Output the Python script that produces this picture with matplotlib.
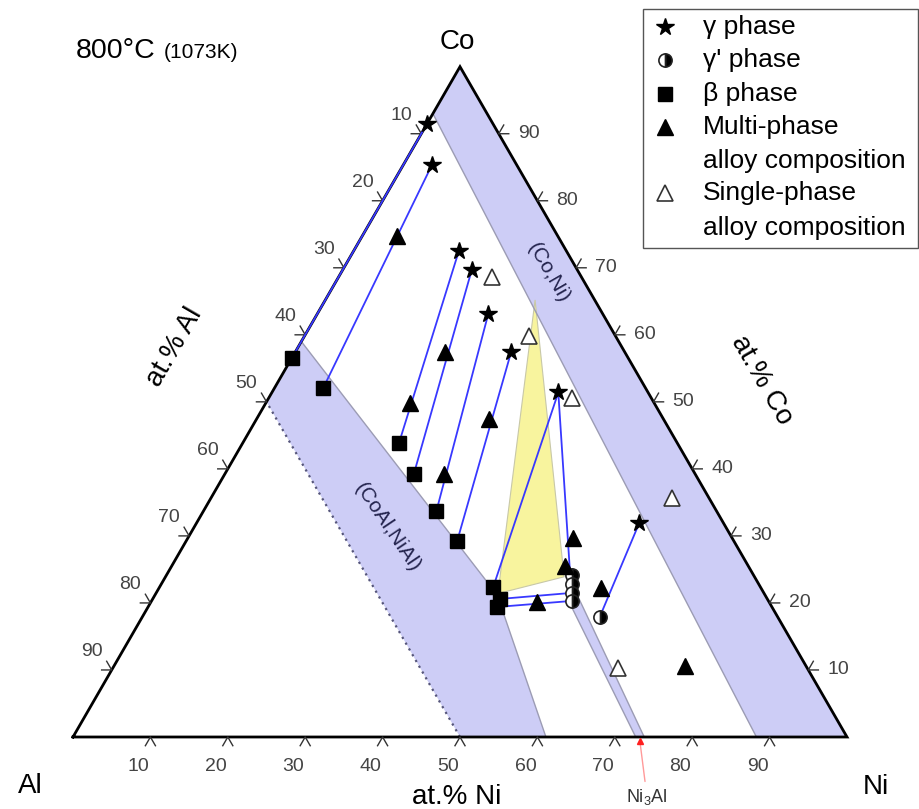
import numpy as np
import matplotlib.pyplot as plt
from matplotlib.patches import Polygon, Rectangle

plt.rcParams['font.family'] = ['Liberation Sans', 'DejaVu Sans']

S3 = np.sqrt(3) / 2
PX = 7.74  # pixels per at.% on the triangle


def tern(ni, co):
    # (Ni, Co) in at.% -> cartesian position inside the triangle
    ni = np.asarray(ni, float)
    co = np.asarray(co, float)
    return ni + co / 2, co * S3


def px(x, y):
    # figure pixel position -> data position
    return (x - 73) / PX, (737 - y) / PX


# phase compositions in at.% (Ni, Co); Al is the balance
gamma_ni = [0.0, 3.7, 13.6, 16.7, 22.1, 27.9, 37.0, 57.2]
gamma_co = [91.5, 85.4, 72.5, 69.6, 63.1, 57.4, 51.4, 31.9]
gprime_ni = [52.4, 53.0, 53.7, 54.3, 59.1]
gprime_co = [24.2, 22.9, 21.5, 20.3, 17.9]
beta_ni = [0.0, 6.3, 20.2, 24.4, 30.1, 35.0, 43.1, 44.9, 45.1]
beta_co = [56.6, 52.0, 43.8, 39.3, 33.7, 29.3, 22.4, 20.6, 19.4]
multi_ni = [4.4, 18.6, 19.3, 28.3, 30.0, 49.7, 50.8, 49.8, 57.1, 73.8]
multi_co = [74.8, 49.9, 57.4, 39.2, 47.4, 29.7, 25.5, 20.2, 22.2, 10.6]
single_ni = [19.8, 29.0, 39.2, 59.5, 65.2]
single_co = [68.6, 59.8, 50.5, 35.7, 10.3]

# tie lines as index pairs
ties_gamma_beta = [(0, 0), (1, 1), (2, 2), (3, 3), (4, 4), (5, 5), (6, 6)]
ties_gamma_gprime = [(6, 3), (7, 4)]
ties_beta_gprime = [(7, 2), (8, 3)]

# single phase fields (Ni, Co)
coni_ni = [0.0, 0.0, 100.0, 88.3]
coni_co = [93.0, 100.0, 0.0, 0.0]
b2_ni = [0.0, 44.2, 61.1, 50.0, 0.0]
b2_co = [59.0, 21.2, 0.0, 0.0, 50.0]
ni3al_ni = [53.7, 54.9, 73.8, 72.7]
ni3al_co = [20.5, 20.8, 0.0, 0.0]
three_ni = [27.1, 51.5, 44.2]
three_co = [65.2, 23.9, 21.4]
ni3al_point = 73.3

ticks = [10, 20, 30, 40, 50, 60, 70, 80, 90]

legend_labels = ['γ phase', 'γʹ phase', 'β phase', 'Multi-phase',
                 'alloy composition', 'Single-phase', 'alloy composition']

fig = plt.figure(figsize=(9.2, 8.09), dpi=100)
ax = fig.add_axes([0, 0, 1, 1])
ax.set_xlim(-73 / PX, (920 - 73) / PX)
ax.set_ylim(-(809 - 737) / PX, 737 / PX)
ax.axis('off')

lav = '#cdcdf6'
edge = '#9c9cb4'

# phase fields
for ni, co in [(coni_ni, coni_co), (b2_ni, b2_co), (ni3al_ni, ni3al_co)]:
    x, y = tern(ni, co)
    ax.add_patch(Polygon(np.column_stack([x, y]), closed=True,
                         facecolor=lav, edgecolor='none', zorder=1))
x, y = tern(coni_ni[:1] + coni_ni[3:], coni_co[:1] + coni_co[3:])
ax.plot(x, y, color=edge, lw=1.0, zorder=1.5)
x, y = tern(b2_ni[:3], b2_co[:3])
ax.plot(x, y, color=edge, lw=1.0, zorder=1.5)
x, y = tern(b2_ni[3:], b2_co[3:])
ax.plot(x, y, color='#55557a', lw=1.6, ls=(0, (1, 2)), zorder=1.5)
x, y = tern(ni3al_ni, ni3al_co)
ax.plot(x[[0, 3]], y[[0, 3]], color=edge, lw=1.0, zorder=1.5)
ax.plot(x[[1, 2]], y[[1, 2]], color=edge, lw=1.0, zorder=1.5)

x, y = tern(three_ni, three_co)
ax.add_patch(Polygon(np.column_stack([x, y]), closed=True,
                     facecolor='#f8f49e', edgecolor='#c8c8a8', lw=0.8, zorder=1.2))

# triangle frame
tx, ty = tern([0, 100, 0, 0], [0, 0, 100, 0])
ax.plot(tx, ty, color='black', lw=2.0, zorder=2, solid_joinstyle='miter')

# ticks and labels
L = 1.3
tc = '#333333'
lc = '#444444'
for k in ticks:
    # bottom (Ni)
    x0, y0 = k, 0.0
    ax.plot([x0 - L / 2, x0, x0 + L / 2], [-L * S3, 0, -L * S3], color=tc, lw=1.0)
    ax.text(x0 - 1.55, -3.75, str(k), ha='center', va='center', fontsize=14, color=lc)
    # left (Al)
    x0, y0 = tern(0, 100 - k)
    ax.plot([x0 - L, x0, x0 - L / 2], [y0, y0, y0 + L * S3], color=tc, lw=1.0)
    ax.text(x0 - 2.58, y0 + 2.33, str(k), ha='center', va='center', fontsize=14, color=lc)
    # right (Co)
    x0, y0 = tern(100 - k, k)
    ax.plot([x0 + L, x0, x0 + L / 2], [y0, y0, y0 + L * S3], color=tc, lw=1.0)
    ax.text(x0 + 3.88, y0, str(k), ha='center', va='center', fontsize=14, color=lc)

# tie lines
tie_kw = dict(color='#3838ff', lw=1.3, zorder=3)
for g, b in ties_gamma_beta:
    x, y = tern([gamma_ni[g], beta_ni[b]], [gamma_co[g], beta_co[b]])
    ax.plot(x, y, **tie_kw)
for g, p in ties_gamma_gprime:
    x, y = tern([gamma_ni[g], gprime_ni[p]], [gamma_co[g], gprime_co[p]])
    ax.plot(x, y, **tie_kw)
for b, p in ties_beta_gprime:
    x, y = tern([beta_ni[b], gprime_ni[p]], [beta_co[b], gprime_co[p]])
    ax.plot(x, y, **tie_kw)

# markers
star_kw = dict(marker='*', ms=13, color='black', ls='none', zorder=5)
gp_kw = dict(marker='o', ms=9.5, ls='none', fillstyle='right', markerfacecolor='black',
             markerfacecoloralt='white', markeredgecolor='#222222', mew=1.2, zorder=5)
sq_kw = dict(marker='s', ms=9.5, color='black', ls='none', zorder=5)
tri_kw = dict(marker='^', ms=11, color='black', ls='none', zorder=5)
otri_kw = dict(marker='^', ms=11.5, markerfacecolor='white', markeredgecolor='#333333',
               mew=1.2, ls='none', zorder=5)

ax.plot(*tern(gamma_ni, gamma_co), **star_kw)
ax.plot(*tern(gprime_ni, gprime_co), **gp_kw)
ax.plot(*tern(beta_ni, beta_co), **sq_kw)
ax.plot(*tern(multi_ni, multi_co), **tri_kw)
ax.plot(*tern(single_ni, single_co), **otri_kw)

# Ni3Al composition on the Ni axis
ax.plot(ni3al_point, -0.55, marker='^', ms=5, color='#ff2020', ls='none', zorder=4)
ax.annotate('Ni$_{\\mathregular{3}}$Al', xy=(ni3al_point, -1.0), xytext=px(647, 797),
            ha='center', va='center', fontsize=13, color='#333333',
            arrowprops=dict(arrowstyle='-', color='#ff9a9a', lw=1.0, shrinkA=2, shrinkB=0))

# field labels
ax.text(*px(548, 273), '(Co,Ni)', rotation=-60, ha='center', va='center',
        fontsize=15, color='#24244e')
ax.text(*px(387, 527), '(CoAl,NiAl)', rotation=-56, ha='center', va='center',
        fontsize=15, color='#24244e')

# corner and axis titles
ax.text(*px(457, 42), 'Co', ha='center', va='center', fontsize=20)
ax.text(*px(30, 786), 'Al', ha='center', va='center', fontsize=20)
ax.text(*px(876, 787), 'Ni', ha='center', va='center', fontsize=20)
ax.text(*px(457, 797), 'at.% Ni', ha='center', va='center', fontsize=20)
ax.text(*px(175, 347), 'at.% Al', rotation=60, ha='center', va='center', fontsize=20)
ax.text(*px(762, 380), 'at.% Co', rotation=-60, ha='center', va='center', fontsize=20)

ax.text(*px(76, 58), '800°C', ha='left', va='baseline', fontsize=20.5)
ax.text(*px(164, 58), '(1073K)', ha='left', va='baseline', fontsize=15)

# legend box
x0, y0 = px(643, 248)
x1, y1 = px(918, 9)
ax.add_patch(Rectangle((x0, y0), x1 - x0, y1 - y0, facecolor='white',
                       edgecolor='#555555', lw=1.0, zorder=6))
rows = [26.7, 60, 94, 126.7, 160.7, 193.3, 227.7]
for lab, r in zip(legend_labels, rows):
    ax.text(*px(703, r), lab, ha='left', va='center', fontsize=19, zorder=7)
mk = [star_kw, gp_kw, sq_kw, tri_kw, otri_kw]
mrows = [26.7, 60, 94, 126.7, 193.3]
for kw, r in zip(mk, mrows):
    kw = dict(kw, zorder=7)
    ax.plot(*px(665, r), **kw)

fig.savefig('out.png', dpi=100)
